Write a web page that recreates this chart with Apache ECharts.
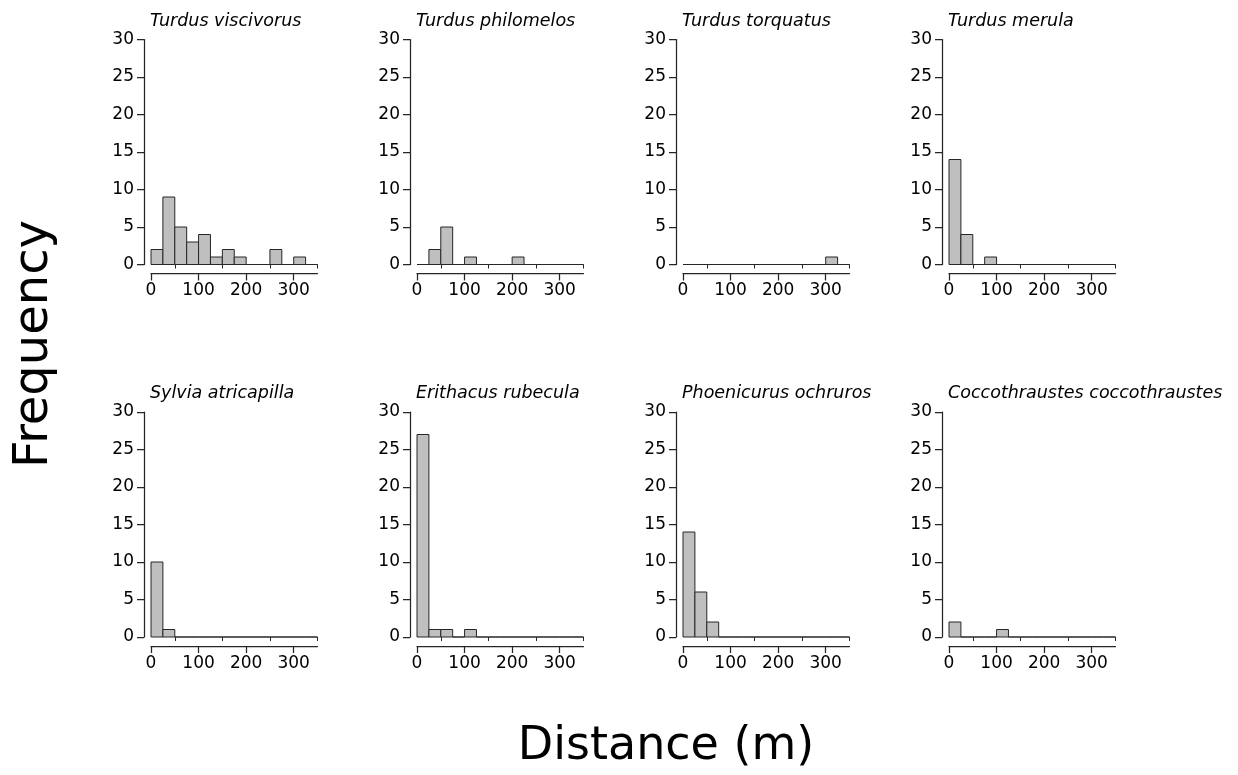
<!DOCTYPE html>
<html><head><meta charset="utf-8">
<script src="https://cdn.jsdelivr.net/npm/echarts@6/dist/echarts.min.js"></script>
<style>html,body{margin:0;padding:0;background:#fff}#c{width:1238px;height:775px}</style>
</head><body><div id="c"></div>
<script>
// ---- data ----
const species = [
  'Turdus viscivorus', 'Turdus philomelos', 'Turdus torquatus', 'Turdus merula',
  'Sylvia atricapilla', 'Erithacus rubecula', 'Phoenicurus ochruros', 'Coccothraustes coccothraustes'
];
const binEdges = [0, 25, 50, 75, 100, 125, 150, 175, 200, 225, 250, 275, 300, 325, 350];
const turdusViscivorus   = [2, 9, 5, 3, 4, 1, 2, 1, 0, 0, 2, 0, 1, 0];
const turdusPhilomelos   = [0, 2, 5, 0, 1, 0, 0, 0, 1, 0, 0, 0, 0, 0];
const turdusTorquatus    = [0, 0, 0, 0, 0, 0, 0, 0, 0, 0, 0, 0, 1, 0];
const turdusMerula       = [14, 4, 0, 1, 0, 0, 0, 0, 0, 0, 0, 0, 0, 0];
const sylviaAtricapilla  = [10, 1, 0, 0, 0, 0, 0, 0, 0, 0, 0, 0, 0, 0];
const erithacusRubecula  = [27, 1, 1, 0, 1, 0, 0, 0, 0, 0, 0, 0, 0, 0];
const phoenicurusOchruros = [14, 6, 2, 0, 0, 0, 0, 0, 0, 0, 0, 0, 0, 0];
const coccothraustes     = [2, 0, 0, 0, 1, 0, 0, 0, 0, 0, 0, 0, 0, 0];
const counts = [turdusViscivorus, turdusPhilomelos, turdusTorquatus, turdusMerula,
  sylviaAtricapilla, erithacusRubecula, phoenicurusOchruros, coccothraustes];
const xMajorTicks = [0, 100, 200, 300];
const xMinorTicks = [50, 150, 250, 350];
const yMax = 30, yStep = 5, xMax = 350;
const xTitle = 'Distance (m)';
const yTitle = 'Frequency';

// ---- layout ----
const colLeft = [151, 417, 683, 949];
const rowTop = [39.5, 412];
const gw = 166.5, gh = 225;
const FONT = 'DejaVu Sans';
const INK = '#262626';

const chart = echarts.init(document.getElementById('c'), null, {renderer: 'canvas'});
const grid = [], xAxis = [], yAxis = [], series = [], title = [];
for (let i = 0; i < 8; i++) {
  const r = Math.floor(i / 4), c = i % 4;
  grid.push({left: colLeft[c], top: rowTop[r], width: gw, height: gh, containLabel: false});
  title.push({
    text: species[i], left: colLeft[c] - 1, top: rowTop[r] - 27.5, padding: 0,
    textStyle: {fontFamily: FONT, fontStyle: 'italic', fontWeight: 'normal', fontSize: 17.5, color: '#000'}
  });
  xAxis.push({
    type: 'value', gridIndex: i, min: 0, max: xMax, position: 'bottom', offset: 9,
    axisLine: {show: true, onZero: false, lineStyle: {color: INK, width: 1.25}},
    axisTick: {show: true, customValues: xMajorTicks, length: 7, lineStyle: {color: INK, width: 1.25}},
    axisLabel: {show: true, customValues: xMajorTicks, fontFamily: FONT, fontSize: 17, color: '#000', margin: 9},
    splitLine: {show: false}
  });
  xAxis.push({
    type: 'value', gridIndex: i, min: 0, max: xMax, position: 'bottom', offset: 9,
    axisLine: {show: false},
    axisTick: {show: true, customValues: xMinorTicks, length: 4, lineStyle: {color: INK, width: 1}},
    axisLabel: {show: false},
    splitLine: {show: false}
  });
  yAxis.push({
    type: 'value', gridIndex: i, min: 0, max: yMax, interval: yStep, position: 'left', offset: 7,
    axisLine: {show: true, onZero: false, lineStyle: {color: INK, width: 1.25}},
    axisTick: {show: true, length: 7, lineStyle: {color: INK, width: 1.25}},
    axisLabel: {fontFamily: FONT, fontSize: 17, color: '#000', margin: 10},
    splitLine: {show: false}
  });
  const data = counts[i].map((v, k) => [binEdges[k], binEdges[k + 1], v]);
  series.push({
    type: 'custom', xAxisIndex: 2 * i, yAxisIndex: i, data: data,
    encode: {x: [0, 1], y: 2},
    renderItem: function (params, api) {
      const p0 = api.coord([api.value(0), api.value(2)]);
      const p1 = api.coord([api.value(1), 0]);
      return {
        type: 'rect',
        shape: {x: p0[0], y: p0[1], width: p1[0] - p0[0], height: p1[1] - p0[1]},
        style: {fill: '#bfbfbf', stroke: INK, lineWidth: 1}
      };
    }
  });
}

chart.setOption({
  animation: false,
  backgroundColor: '#fff',
  title: title,
  grid: grid, xAxis: xAxis, yAxis: yAxis, series: series,
  graphic: [
    {type: 'text', x: 35, y: 344, rotation: Math.PI / 2,
      style: {text: yTitle, fontFamily: FONT, fontSize: 48, fill: '#000', align: 'center', verticalAlign: 'middle'}},
    {type: 'text', x: 666, y: 747,
      style: {text: xTitle, fontFamily: FONT, fontSize: 46, fill: '#000', align: 'center', verticalAlign: 'middle'}}
  ]
});
</script></body></html>
